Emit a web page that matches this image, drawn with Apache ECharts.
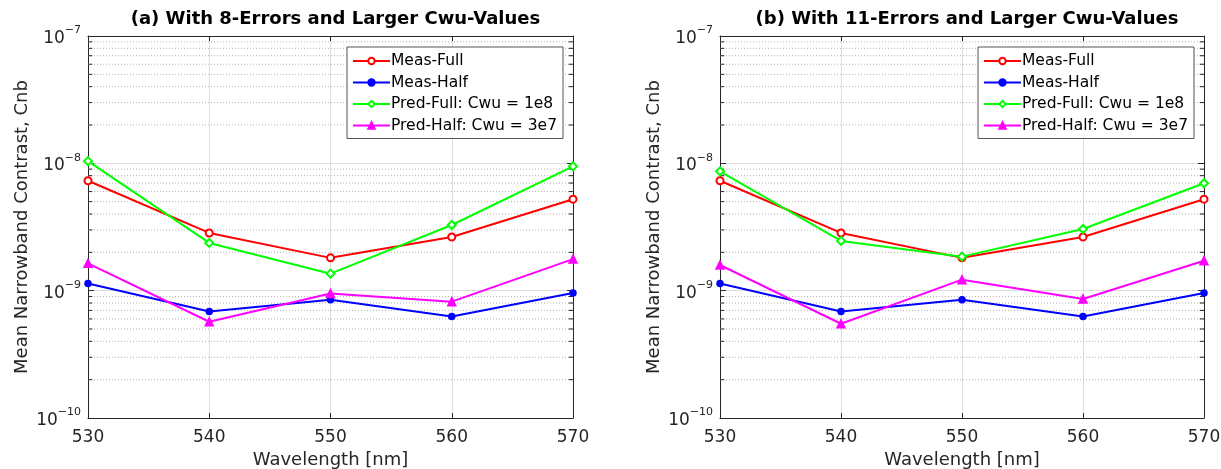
<!DOCTYPE html>
<html>
<head>
<meta charset="utf-8">
<script src="https://cdn.jsdelivr.net/npm/echarts@6/dist/echarts.min.js"></script>
<style>
  html, body { margin: 0; padding: 0; background: #fff; }
  #chart { width: 1221px; height: 469px; }
</style>
</head>
<body>
<div id="chart"></div>
<script>
// wavelengths (nm)
const wavelengths = [530, 540, 550, 560, 570];

// panel (a): 8 errors
const measFull = [7.3e-9, 2.84e-9, 1.81e-9, 2.64e-9, 5.23e-9];
const measHalf = [1.14e-9, 6.85e-10, 8.5e-10, 6.27e-10, 9.6e-10];
const predFullA = [1.04e-8, 2.37e-9, 1.36e-9, 3.28e-9, 9.47e-9];
const predHalfA = [1.64e-9, 5.7e-10, 9.5e-10, 8.2e-10, 1.77e-9];

// panel (b): 11 errors
const predFullB = [8.66e-9, 2.46e-9, 1.85e-9, 3.05e-9, 6.98e-9];
const predHalfB = [1.59e-9, 5.5e-10, 1.22e-9, 8.6e-10, 1.72e-9];

const seriesNames = ['Meas-Full', 'Meas-Half', 'Pred-Full: Cwu = 1e8', 'Pred-Half: Cwu = 3e7'];
const titles = ['(a) With 8-Errors and Larger Cwu-Values', '(b) With 11-Errors and Larger Cwu-Values'];

// minor grid values (2..9 per decade)
const minorGrid = [];
[1e-10, 1e-9, 1e-8].forEach(d => {
  for (let k = 2; k <= 9; k++) minorGrid.push(k * d);
});

const FONT = 'DejaVu Sans';
const TXT = '#262626';

const chart = echarts.init(document.getElementById('chart'));

const grids = [
  { left: 88, top: 36, width: 485, height: 382 },
  { left: 720, top: 36, width: 484, height: 382 }
];

function pairs(ys) {
  return wavelengths.map((x, i) => [x, ys[i]]);
}

// horizontal segments between x0 and x1 at each minor value, broken between values
function hSegments(x0, x1) {
  const d = [];
  minorGrid.forEach(v => {
    d.push([x0, v], [x1, v], ['-', '-']);
  });
  return d;
}

const xMin = wavelengths[0], xMax = wavelengths[wavelengths.length - 1];
const minorTickLen = 0.35; // in nm

const styles = [
  { color: '#ff0000', symbol: 'emptyCircle', size: 7 },
  { color: '#0000ff', symbol: 'circle', size: 6 },
  { color: '#00ff00', symbol: 'emptyDiamond', size: 8 },
  { color: '#ff00ff', symbol: 'triangle', size: 8 }
];

const xAxes = [], yAxes = [], series = [], titleList = [], legends = [];

grids.forEach((g, gi) => {
  // main bottom x axis
  xAxes.push({
    type: 'value', gridIndex: gi, min: 530, max: 570, interval: 10,
    name: 'Wavelength [nm]', nameLocation: 'middle', nameGap: 33,
    nameTextStyle: { fontFamily: FONT, fontSize: 18, color: TXT },
    axisLine: { lineStyle: { color: TXT, width: 1 } },
    axisTick: { inside: true, length: 5, lineStyle: { color: TXT } },
    axisLabel: { fontFamily: FONT, fontSize: 17, color: TXT, margin: 11 },
    splitLine: { show: true, lineStyle: { color: '#dedede', width: 1 } }
  });
  // top x axis (box edge + ticks)
  xAxes.push({
    type: 'value', gridIndex: gi, min: 530, max: 570, interval: 10, position: 'top',
    axisLine: { onZero: false, lineStyle: { color: TXT } },
    axisTick: { inside: true, length: 5, lineStyle: { color: TXT } },
    axisLabel: { show: false }, splitLine: { show: false }
  });
  yAxes.push({
    type: 'log', logBase: 10, gridIndex: gi, min: 1e-10, max: 1e-7,
    name: 'Mean Narrowband Contrast, Cnb', nameLocation: 'middle', nameGap: 57,
    nameTextStyle: { fontFamily: FONT, fontSize: 18, color: TXT },
    axisLine: { show: true, lineStyle: { color: TXT } },
    axisTick: { inside: true, length: 6, lineStyle: { color: TXT } },
    axisLabel: {
      margin: 7,
      formatter: v => '{b|10}{e|\u2212' + Math.round(-Math.log10(v)) + '}',
      rich: {
        b: { fontFamily: FONT, fontSize: 17, color: TXT, lineHeight: 22, verticalAlign: 'bottom' },
        e: { fontFamily: FONT, fontSize: 11, color: TXT, lineHeight: 12, verticalAlign: 'top' }
      }
    },
    splitLine: { show: true, lineStyle: { color: '#dedede', width: 1 } }
  });
  yAxes.push({
    type: 'log', logBase: 10, gridIndex: gi, min: 1e-10, max: 1e-7, position: 'right',
    axisLine: { show: true, onZero: false, lineStyle: { color: TXT } },
    axisTick: { inside: true, length: 6, lineStyle: { color: TXT } },
    axisLabel: { show: false }, splitLine: { show: false }
  });

  const xi = gi * 2, yi = gi * 2;

  // minor dotted gridlines
  series.push({
    type: 'line', xAxisIndex: xi, yAxisIndex: yi, data: hSegments(xMin, xMax),
    silent: true, symbol: 'none', connectNulls: false,
    lineStyle: { color: '#b4b4b4', type: [1, 2], width: 1 },
    z: 1
  });
  // minor ticks on left and right edges
  series.push({
    type: 'line', xAxisIndex: xi, yAxisIndex: yi,
    data: hSegments(xMin, xMin + minorTickLen).concat(hSegments(xMax - minorTickLen, xMax)),
    silent: true, symbol: 'none', connectNulls: false,
    lineStyle: { color: TXT, width: 1 },
    z: 2
  });

  const sets = gi === 0
    ? [measFull, measHalf, predFullA, predHalfA]
    : [measFull, measHalf, predFullB, predHalfB];

  sets.forEach((ys, si) => {
    const s = styles[si];
    series.push({
      name: seriesNames[si], type: 'line', xAxisIndex: xi, yAxisIndex: yi,
      data: pairs(ys), symbol: s.symbol, symbolSize: s.size, showAllSymbol: true,
      lineStyle: { color: s.color, width: 2 },
      itemStyle: { color: s.color, borderColor: s.color, borderWidth: 1.5 },
      z: 3 + si
    });
  });

  titleList.push({
    text: titles[gi], left: g.left + g.width / 2, top: 5, textAlign: 'center',
    textStyle: { fontFamily: FONT, fontSize: 18, fontWeight: 'bold', color: '#000' }
  });

  legends.push({
    data: seriesNames, orient: 'vertical',
    left: gi === 0 ? 347 : 978, top: 47,
    backgroundColor: '#fff', borderColor: '#555', borderWidth: 1,
    padding: [6, 6, 5, 5], itemGap: 5.5, itemWidth: 37, itemHeight: 8,
    selectedMode: false,
    textStyle: { fontFamily: FONT, fontSize: 15.5, color: '#000', padding: [0, 0, 0, -4] }
  });
});

chart.setOption({
  animation: false,
  backgroundColor: '#fff',
  title: titleList,
  legend: legends,
  grid: grids.map(g => Object.assign({ containLabel: false, outerBoundsMode: 'none' }, g)),
  xAxis: xAxes,
  yAxis: yAxes,
  series: series
});
</script>
</body>
</html>
